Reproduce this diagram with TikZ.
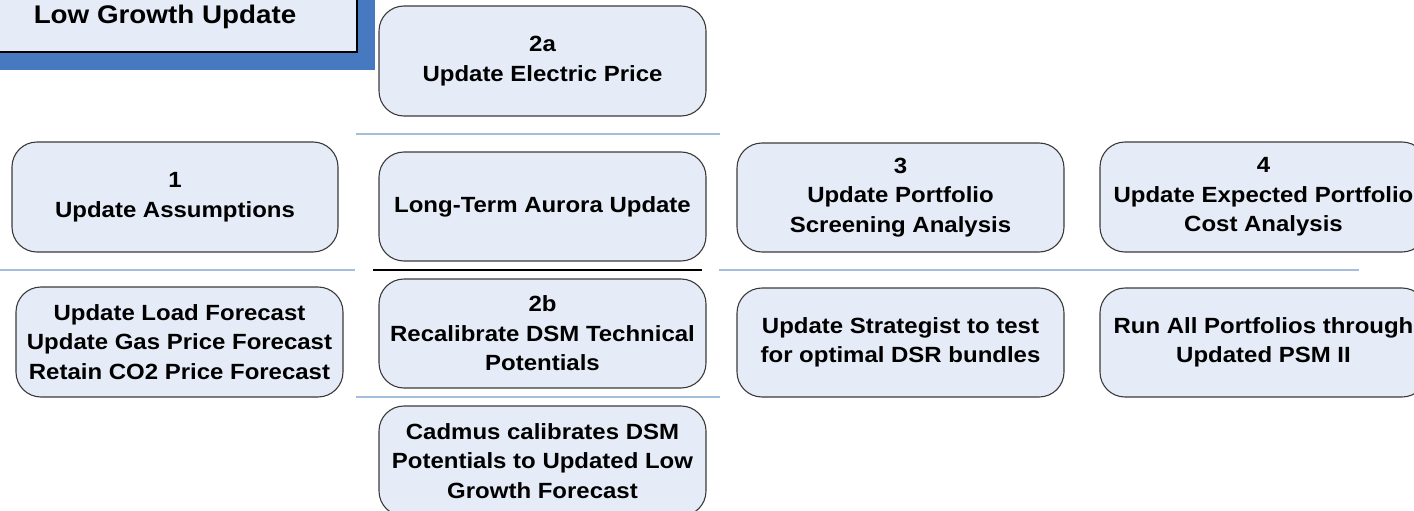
\documentclass[tikz,border=0pt]{standalone}
\usepackage{fontspec}
\setmainfont[FakeStretch=1.09]{Liberation Sans}
\definecolor{boxfill}{HTML}{E6ECF7}
\definecolor{boxedge}{HTML}{3A3A3A}
\definecolor{band}{HTML}{4779C1}
\definecolor{rule}{HTML}{A5BEDC}
\begin{document}
\begin{tikzpicture}[x=1pt,y=-1pt,
  stepbox/.style={draw=boxedge, fill=boxfill, rounded corners=25pt,
    line width=1.1pt, minimum width=327pt, minimum height=110pt,
    inner sep=0pt, align=center,
    font=\fontsize{22}{29.5}\selectfont\bfseries},
  sepline/.style={draw=rule, line width=2pt},
  mainline/.style={draw=black, line width=2.2pt}]
\useasboundingbox (0,0) rectangle (1414,511);
\clip (0,0) rectangle (1414,511);

% title banner
\fill[band] (-5,-5) rectangle (375,70.5);
\filldraw[fill=boxfill, draw=black, line width=1.4pt] (-10,-10) rectangle (357,52);
\node[font=\fontsize{25.5}{30}\selectfont\bfseries] (title) at (165,17) {Low Growth Update};

% step boxes
\node[stepbox] (s2a) at (542.5,61) {2a\\Update Electric Price};
\node[stepbox, minimum width=326pt] (s1) at (175,197) {1\\Update Assumptions};
\node[stepbox, minimum height=109pt] (aur) at (542.5,206.5) {Long-Term Aurora Update};
\node[stepbox, minimum height=109pt] (s3) at (900.5,197.5) {3\\Update Portfolio\\Screening Analysis};
\node[stepbox] (s4) at (1263.5,197) {4\\Update Expected Portfolio\\Cost Analysis};
\node[stepbox] (load) at (179.5,342) {Update Load Forecast\\Update Gas Price Forecast\\Retain CO2 Price Forecast};
\node[stepbox, minimum height=109pt] (s2b) at (542.5,333.5) {2b\\Recalibrate DSM Technical\\Potentials};
\node[stepbox, minimum height=109pt] (strat) at (900.5,342.5) {Update Strategist to test\\for optimal DSR bundles};
\node[stepbox, minimum height=109pt] (run) at (1263.5,342.5) {Run All Portfolios through\\Updated PSM II};
\node[stepbox] (cad) at (542.5,461) {Cadmus calibrates DSM\\Potentials to Updated Low\\Growth Forecast};

% separator rules
\draw[sepline] (356,134) -- (720,134);
\draw[sepline] (0,269.5) -- (355,269.5);
\draw[sepline] (719,269.5) -- (1359,269.5);
\draw[mainline] (373,270) -- (702,270);
\draw[sepline] (356,397) -- (720,397);
\end{tikzpicture}
\end{document}
